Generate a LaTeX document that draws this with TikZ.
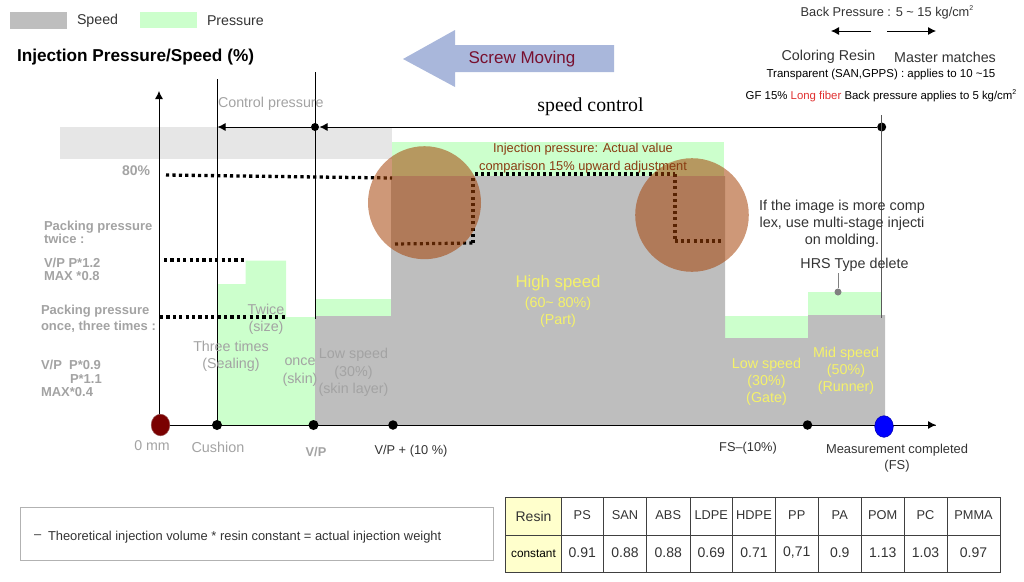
\documentclass[tikz,border=0pt]{standalone}
\usepackage{fontspec}
\setmainfont{Liberation Sans}
\newfontfamily\serifface{Liberation Serif}
\usetikzlibrary{arrows.meta}
\definecolor{spd}{HTML}{BEBEBE}
\definecolor{prs}{HTML}{CCFFCC}
\definecolor{ltg}{HTML}{E6E6E6}
\definecolor{arw}{HTML}{A9B7DB}
\definecolor{lbl}{HTML}{A3A3A3}
\definecolor{ylw}{HTML}{F5F26A}
\definecolor{cir}{RGB}{165,65,5}
\definecolor{brn}{HTML}{8A3C12}
\definecolor{dark}{HTML}{333333}
\definecolor{hdr}{HTML}{FFFFCC}
\newcommand{\fz}[2]{\fontsize{#1}{#2}\selectfont}
\newcommand{\supii}{\raisebox{0.42em}{\fontsize{7}{7}\selectfont 2}}
\tikzset{
  txt/.style={inner sep=0pt,outer sep=0pt,align=center,text=dark},
  ltxt/.style={inner sep=0pt,outer sep=0pt,align=left,anchor=west},
  glab/.style={txt,text=lbl,font=\fz{14.3}{17.5}},
  ylab/.style={txt,text=ylw,font=\fz{14.3}{17}},
  pk/.style={ltxt,text=lbl,font=\bfseries\fz{13}{13}},
  dots/.style={line width=3.3pt,dash pattern=on 3.2pt off 3.2pt,black},
  thin dots/.style={line width=3.2pt,dash pattern=on 3pt off 3.2pt,black},
  vline/.style={line width=0.9pt,black},
  dot/.style={circle,fill=black,inner sep=0pt,minimum size=10pt},
  tip/.style={-{Latex[length=8pt,width=8pt]}},
  cell/.style={txt,font=\fz{13.5}{16}},
  grid/.style={line width=0.9pt,draw=black!75},
}
\begin{document}
\begin{tikzpicture}[x=1pt,y=-1pt]
\useasboundingbox (0,0) rectangle (1024,581);
% legend
\fill[spd] (10,12) rectangle (67,29);
\fill[prs] (140,12) rectangle (197,28);
\node[ltxt,text=dark,font=\fz{14.2}{16}] (lgspeed) at (77,21) {Speed\vphantom{p}};
\node[ltxt,text=dark,font=\fz{14.2}{16}] (lgpress) at (207,21) {Pressure};
\node[ltxt,text=black,font=\bfseries\fz{17.2}{19}] (title) at (17,57) {Injection Pressure/Speed (\%)};
% screw arrow
\fill[arw] (403,59) -- (455,30) -- (455,45) -- (614,45) -- (614,72) -- (455,72) -- (455,87) -- cycle;
\node[txt,font=\fz{17}{19}] (screw) at (522,59) {\textcolor[HTML]{78102F}{Screw Moving}};
% bands
\fill[ltg] (60,127) rectangle (392,159);
\fill[prs] (391.5,142) rectangle (724,177);
\fill[prs] (217.5,425) -- (217.5,284) -- (245.5,284) -- (245.5,260.5) -- (286,260.5) -- (286,317) -- (315,317) -- (315,425) -- cycle;
\fill[prs] (315,299) rectangle (391,317);
\fill[prs] (725,316) rectangle (808,338);
\fill[prs] (808,292) rectangle (882,315);
\fill[spd] (315,316) -- (391,316) -- (391,176) -- (725,176) -- (725,338) -- (808,338) -- (808,315) -- (885,315) -- (885,425) -- (315,425) -- cycle;
% vertical guides
\coordinate (vCtop) at (217.5,79);
\coordinate (vCbot) at (217.5,425);
\coordinate (vVtop) at (315,72);
\coordinate (vVbot) at (315,319);
\coordinate (vFtop) at (881.7,115);
\coordinate (vFbot) at (881.7,318);
\coordinate (origin) at (159,425);
\coordinate (ytop) at (159,91);
\coordinate (xend) at (936,425);
\coordinate (hC) at (217.5,127);
\coordinate (hV) at (319.5,127);
\node[dot,minimum size=8pt] (dC) at (315,127) {};
\node[dot,minimum size=9pt] (dF) at (881.7,127) {};
\draw[vline,draw=black!80] (origin) -- (xend);
\draw[vline,tip] (origin) -- (ytop);
\draw[vline] (vCtop) -- (vCbot);
\draw[vline] (vVtop) -- (vVbot);
\draw[vline,draw=black!65] (vFtop) -- (vFbot);
\draw[vline,tip] (dF) -- (hV);
\draw[vline,tip] (dC) -- (hC);
\draw[tip,vline] (origin) -- (xend);
% dotted levels
\draw[dots] (166,175) -- (392,178);
\draw[thin dots] (395,244) -- (473,243);
\draw[thin dots] (473,243) -- (473,178);
\draw[thin dots] (475,174) -- (675,174);
\draw[thin dots] (675,174) -- (675,241);
\draw[thin dots] (675,241) -- (724,241);
\draw[dots] (164,260) -- (245,260);
\draw[dots] (160,317) -- (286,317);
% circles
\fill[cir,opacity=.54] (424.5,202.7) circle (56.5);
\fill[cir,opacity=.54] (692,215) circle (56.8);
% axis labels
\node[ltxt,text=lbl,font=\fz{14.3}{16}] (ctrl) at (218,104) {Control pressure};
\node[txt,font=\serifface\fz{19.8}{22},text=black] (spctrl) at (590.5,107) {speed control};
\node[txt,text=brn,font=\fz{12.85}{18}] (inj) at (583,158) {Injection pressure: Actual value\\comparison 15\% upward adjustment};
\node[ltxt,text=lbl,font=\bfseries\fz{14}{16}] (p80) at (122,171) {80\%};
\node[pk] (pk2a) at (44,227) {Packing pressure};
\node[pk] (pk2b) at (44,239) {twice :};
\node[pk] (pk2c) at (44,263) {V/P P*1.2};
\node[pk] (pk2d) at (44,276.5) {MAX *0.8};
\node[pk] (pk1a) at (41,311) {Packing pressure};
\node[pk] (pk1b) at (41,326.5) {once, three times :};
\node[pk] (pk1c) at (41,365) {V/P~~P*0.9};
\node[pk] (pk1d) at (70,379) {P*1.1};
\node[pk] (pk1e) at (41,392) {MAX*0.4};
% stage labels
\node[glab] (twice) at (266,319.5) {Twice\\(size)};
\node[glab] (three) at (231,356.5) {Three times\\(Sealing)};
\node[glab] (once) at (300,372) {once\\(skin)};
\node[glab] (lows) at (353.5,372.5) {Low speed\\(30\%)\\(skin layer)};
\node[txt,text=ylw,font=\fz{16.8}{18}] (high) at (558,283) {High speed};
\node[ylab] (high2) at (558,312) {(60\textasciitilde{} 80\%)\\(Part)};
\node[ylab] (gate) at (766.5,382) {Low speed\\(30\%)\\(Gate)};
\node[ylab] (runner) at (846,371) {Mid speed\\(50\%)\\(Runner)};
% top right
\node[txt,font=\fz{12.8}{14}] (bp) at (887,12.5) {Back Pressure : 5 \textasciitilde{} 15 kg/cm\supii};
\coordinate (bpL) at (871,31); \coordinate (bpLt) at (831,31);
\coordinate (bpR) at (887,31); \coordinate (bpRt) at (936,31);
\draw[line width=0.8pt,tip] (bpL) -- (bpLt);
\draw[line width=0.8pt,tip] (bpR) -- (bpRt);
\node[txt,font=\fz{14.3}{16}] (cr) at (828.5,57) {Coloring Resin};
\node[txt,font=\fz{14.3}{16}] (mm) at (945,57) {Master matches};
\node[txt,font=\fz{11.5}{13},text=black] (trans) at (881,75) {Transparent (SAN,GPPS) : applies to 10 \textasciitilde15};
\node[txt,font=\fz{11.4}{13},text=black] (gf) at (881,96) {GF 15\% \textcolor[HTML]{E03030}{Long fiber} Back pressure applies to 5 kg/cm\supii};
\node[txt,font=\fz{14.4}{17}] (img) at (842,223.5) {If the image is more comp\\lex, use multi-stage injecti\\on molding.};
\node[txt,font=\fz{14.3}{16}] (hrs) at (854.5,265) {HRS Type delete};
\node[circle,fill=black!50,inner sep=0pt,minimum size=7pt] (hd) at (838,292) {};
\coordinate (hrsb) at (838,273);
\draw[black!50,line width=0.8pt] (hrsb) -- (hd);
% axis dots
\draw[draw=black!60!red!70,line width=0.5pt,fill=red!48!black] (160.5,425) ellipse (9.3 and 10.8);
\node[dot] (cush) at (217,425) {};
\node[dot] (vp) at (313.5,425) {};
\node[dot,minimum size=9.5pt] (vp10) at (393,425) {};
\node[dot,minimum size=9.5pt] (fs10) at (807.5,425) {};
\draw[fill=blue,draw=blue!70!black,line width=0.5pt] (884,426.5) ellipse (9.3 and 10.8);
\node[txt,text=lbl,font=\fz{14.2}{16}] (zero) at (152,446) {0 mm};
\node[txt,text=lbl,font=\fz{14.4}{16}] (cushl) at (218,447) {Cushion};
\node[txt,text=lbl,font=\bfseries\fz{12.8}{14}] (vpl) at (316,452) {V/P};
\node[txt,font=\fz{12.8}{14}] (vp10l) at (411,451) {V/P + (10 \%)};
\node[txt,font=\fz{12.8}{14}] (fsl) at (748,448) {FS--(10\%)};
\node[txt,font=\fz{12.9}{16}] (mc) at (897,458) {Measurement completed\\(FS)};
% note
\draw[black!30,line width=1pt] (20.5,507.5) rectangle (493.5,560);
\node[ltxt,text=dark,font=\fz{12.9}{14}] (dash) at (34,537) {--};
\node[ltxt,text=dark,font=\fz{12.9}{14}] (note) at (48,537) {Theoretical injection volume * resin constant = actual injection weight};
% table
\fill[hdr] (505.5,497) rectangle (561,572);
\foreach \x/\h/\v [remember=\x as \px (initially 561)] in
 {603.5/PS/0.91,646.5/SAN/0.88,690/ABS/0.88,732.5/LDPE/0.69,775.5/HDPE/0.71,818/PP/{0,71},861.5/PA/0.9,904/POM/1.13,947/PC/1.03,1000/PMMA/0.97}{
  \node[cell,font=\fz{12.8}{15}] at ({(\x+\px)/2},515) {\h};
  \node[cell,font=\fz{14}{16}] at ({(\x+\px)/2},552.5) {\v};
  \draw[grid] (\x,497) -- (\x,572);
}
\draw[grid] (505.5,497) rectangle (1000,572);
\draw[grid] (505.5,535) -- (1000,535);
\draw[grid] (561,497) -- (561,572);
\node[cell,font=\fz{14}{16}] (resin) at (533.5,516.5) {Resin};
\node[cell,font=\fz{11.8}{14},text=black] (const) at (533.5,553.5) {constant};
\end{tikzpicture}
\end{document}
